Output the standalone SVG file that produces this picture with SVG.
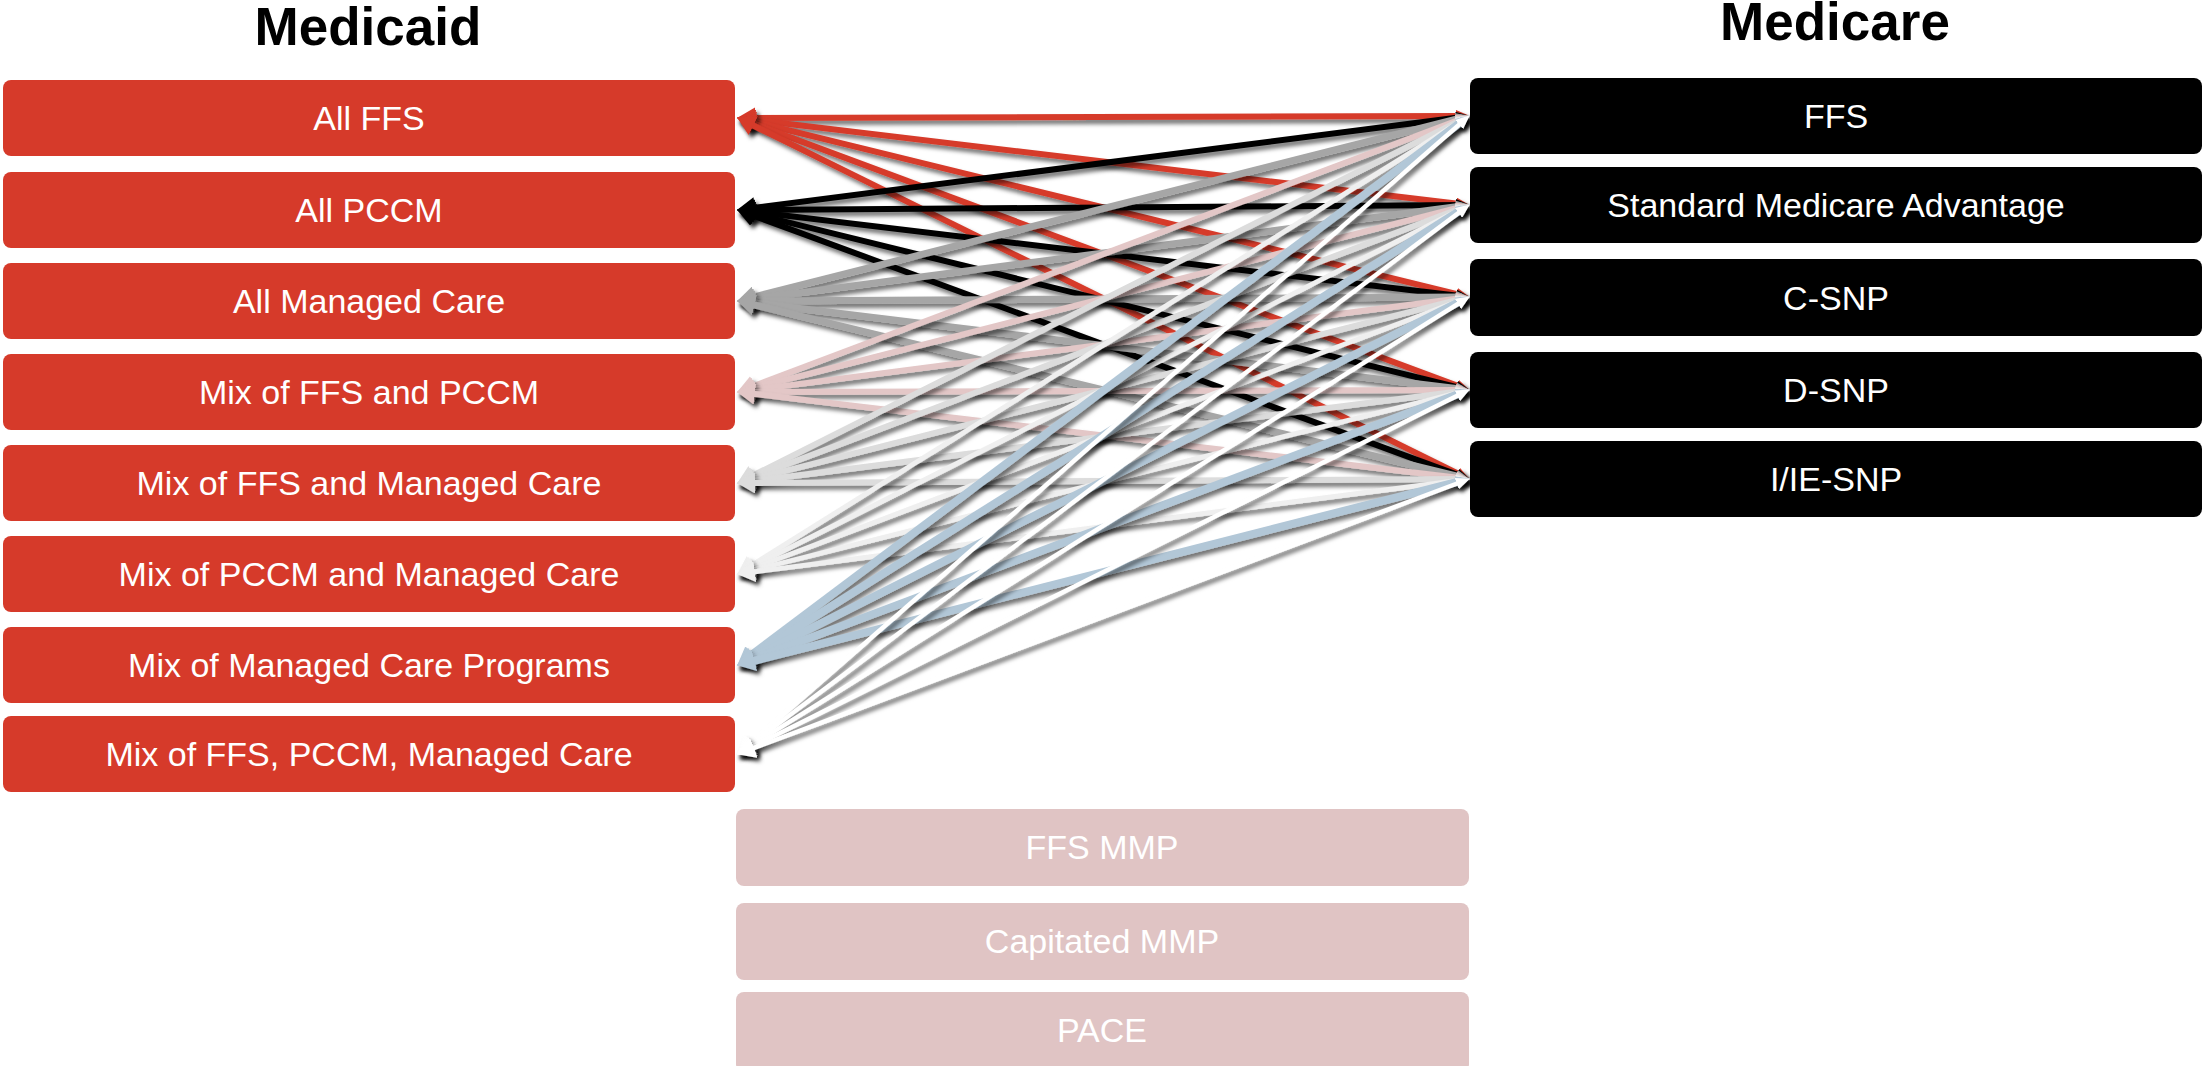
<svg xmlns="http://www.w3.org/2000/svg" width="2204" height="1066" viewBox="0 0 2204 1066">
<style>
.title{font-family:"Liberation Sans",Arial,sans-serif;font-weight:bold;font-size:53px;fill:#000;text-anchor:middle}
.lbl{font-family:"Liberation Sans",Arial,sans-serif;font-size:34px;fill:#fff;text-anchor:middle}
.caid{fill:#D63A2A}
.care{fill:#000}
.mmp{fill:#E0C4C4}
#connectors path{fill:none;filter:url(#sh)}
.c0{stroke:#D63A2A;stroke-width:6;marker-start:url(#s0);marker-end:url(#e0)}
.c1{stroke:#000;stroke-width:6;marker-start:url(#s1);marker-end:url(#e1)}
.c2{stroke:#A6A6A6;stroke-width:7;marker-start:url(#s2);marker-end:url(#e2)}
.c3{stroke:#E3C7C7;stroke-width:6;marker-start:url(#s3);marker-end:url(#e3)}
.c4{stroke:#DCDCDC;stroke-width:6;marker-start:url(#s4);marker-end:url(#e4)}
.c5{stroke:#EFEFEF;stroke-width:5;marker-start:url(#s5);marker-end:url(#e5)}
.c6{stroke:#B2C7D7;stroke-width:8;marker-start:url(#s6);marker-end:url(#e6)}
.c7{stroke:#FFFFFF;stroke-width:4.5;marker-start:url(#s7);marker-end:url(#e7)}
</style>
<defs>
<filter id="sh" filterUnits="userSpaceOnUse" x="0" y="0" width="2204" height="1066">
<feDropShadow dx="3" dy="4" stdDeviation="2.2" flood-color="#000" flood-opacity="0.55"/>
</filter>
<marker id="s0" markerUnits="userSpaceOnUse" viewBox="0 0 18 21" markerWidth="18" markerHeight="21" refX="8" refY="10.5" orient="auto-start-reverse"><path d="M0,0 L18,10.5 L0,21 z" fill="#D63A2A"/></marker>
<marker id="s1" markerUnits="userSpaceOnUse" viewBox="0 0 18 21" markerWidth="18" markerHeight="21" refX="8" refY="10.5" orient="auto-start-reverse"><path d="M0,0 L18,10.5 L0,21 z" fill="#000"/></marker>
<marker id="s2" markerUnits="userSpaceOnUse" viewBox="0 0 18 21" markerWidth="18" markerHeight="21" refX="8" refY="10.5" orient="auto-start-reverse"><path d="M0,0 L18,10.5 L0,21 z" fill="#A6A6A6"/></marker>
<marker id="s3" markerUnits="userSpaceOnUse" viewBox="0 0 18 21" markerWidth="18" markerHeight="21" refX="8" refY="10.5" orient="auto-start-reverse"><path d="M0,0 L18,10.5 L0,21 z" fill="#E3C7C7"/></marker>
<marker id="s4" markerUnits="userSpaceOnUse" viewBox="0 0 18 21" markerWidth="18" markerHeight="21" refX="8" refY="10.5" orient="auto-start-reverse"><path d="M0,0 L18,10.5 L0,21 z" fill="#DCDCDC"/></marker>
<marker id="s5" markerUnits="userSpaceOnUse" viewBox="0 0 18 21" markerWidth="18" markerHeight="21" refX="8" refY="10.5" orient="auto-start-reverse"><path d="M0,0 L18,10.5 L0,21 z" fill="#EFEFEF"/></marker>
<marker id="s6" markerUnits="userSpaceOnUse" viewBox="0 0 18 21" markerWidth="18" markerHeight="21" refX="8" refY="10.5" orient="auto-start-reverse"><path d="M0,0 L18,10.5 L0,21 z" fill="#B2C7D7"/></marker>
<marker id="s7" markerUnits="userSpaceOnUse" viewBox="0 0 18 21" markerWidth="18" markerHeight="21" refX="8" refY="10.5" orient="auto-start-reverse"><path d="M0,0 L18,10.5 L0,21 z" fill="#FFFFFF"/></marker>
<marker id="e0" markerUnits="userSpaceOnUse" viewBox="0 0 14 12" markerWidth="14" markerHeight="12" refX="6" refY="6" orient="auto"><path d="M0,0 L14,6 L0,12 z" fill="#D63A2A"/></marker>
<marker id="e1" markerUnits="userSpaceOnUse" viewBox="0 0 14 12" markerWidth="14" markerHeight="12" refX="6" refY="6" orient="auto"><path d="M0,0 L14,6 L0,12 z" fill="#000"/></marker>
<marker id="e2" markerUnits="userSpaceOnUse" viewBox="0 0 14 12" markerWidth="14" markerHeight="12" refX="6" refY="6" orient="auto"><path d="M0,0 L14,6 L0,12 z" fill="#A6A6A6"/></marker>
<marker id="e3" markerUnits="userSpaceOnUse" viewBox="0 0 14 12" markerWidth="14" markerHeight="12" refX="6" refY="6" orient="auto"><path d="M0,0 L14,6 L0,12 z" fill="#E3C7C7"/></marker>
<marker id="e4" markerUnits="userSpaceOnUse" viewBox="0 0 14 12" markerWidth="14" markerHeight="12" refX="6" refY="6" orient="auto"><path d="M0,0 L14,6 L0,12 z" fill="#DCDCDC"/></marker>
<marker id="e5" markerUnits="userSpaceOnUse" viewBox="0 0 14 12" markerWidth="14" markerHeight="12" refX="6" refY="6" orient="auto"><path d="M0,0 L14,6 L0,12 z" fill="#EFEFEF"/></marker>
<marker id="e6" markerUnits="userSpaceOnUse" viewBox="0 0 14 12" markerWidth="14" markerHeight="12" refX="6" refY="6" orient="auto"><path d="M0,0 L14,6 L0,12 z" fill="#B2C7D7"/></marker>
<marker id="e7" markerUnits="userSpaceOnUse" viewBox="0 0 14 12" markerWidth="14" markerHeight="12" refX="6" refY="6" orient="auto"><path d="M0,0 L14,6 L0,12 z" fill="#FFFFFF"/></marker>
</defs>
<rect width="2204" height="1066" fill="#fff"/>
<text class="title" x="368" y="45">Medicaid</text>
<text class="title" x="1835" y="40">Medicare</text>
<g id="medicaid-all-ffs"><rect class="caid" x="3" y="80" width="732" height="76" rx="8"/><text class="lbl" x="369" y="130">All FFS</text></g>
<g id="medicaid-all-pccm"><rect class="caid" x="3" y="172" width="732" height="76" rx="8"/><text class="lbl" x="369" y="222">All PCCM</text></g>
<g id="medicaid-all-mc"><rect class="caid" x="3" y="263" width="732" height="76" rx="8"/><text class="lbl" x="369" y="313">All Managed Care</text></g>
<g id="medicaid-mix-ffs-pccm"><rect class="caid" x="3" y="354" width="732" height="76" rx="8"/><text class="lbl" x="369" y="404">Mix of FFS and PCCM</text></g>
<g id="medicaid-mix-ffs-mc"><rect class="caid" x="3" y="445" width="732" height="76" rx="8"/><text class="lbl" x="369" y="495">Mix of FFS and Managed Care</text></g>
<g id="medicaid-mix-pccm-mc"><rect class="caid" x="3" y="536" width="732" height="76" rx="8"/><text class="lbl" x="369" y="586">Mix of PCCM and Managed Care</text></g>
<g id="medicaid-mix-mc-programs"><rect class="caid" x="3" y="627" width="732" height="76" rx="8"/><text class="lbl" x="369" y="677">Mix of Managed Care Programs</text></g>
<g id="medicaid-mix-all"><rect class="caid" x="3" y="716" width="732" height="76" rx="8"/><text class="lbl" x="369" y="766">Mix of FFS, PCCM, Managed Care</text></g>
<g id="medicare-ffs"><rect class="care" x="1470" y="78" width="732" height="76" rx="8"/><text class="lbl" x="1836" y="128">FFS</text></g>
<g id="medicare-ma"><rect class="care" x="1470" y="167" width="732" height="76" rx="8"/><text class="lbl" x="1836" y="217">Standard Medicare Advantage</text></g>
<g id="medicare-csnp"><rect class="care" x="1470" y="259" width="732" height="77" rx="8"/><text class="lbl" x="1836" y="310">C-SNP</text></g>
<g id="medicare-dsnp"><rect class="care" x="1470" y="352" width="732" height="76" rx="8"/><text class="lbl" x="1836" y="402">D-SNP</text></g>
<g id="medicare-iesnp"><rect class="care" x="1470" y="441" width="732" height="76" rx="8"/><text class="lbl" x="1836" y="491">I/IE-SNP</text></g>
<g id="ffs-mmp"><rect class="mmp" x="736" y="809" width="733" height="77" rx="8"/><text class="lbl" x="1102" y="859">FFS MMP</text></g>
<g id="capitated-mmp"><rect class="mmp" x="736" y="903" width="733" height="77" rx="8"/><text class="lbl" x="1102" y="953">Capitated MMP</text></g>
<g id="pace"><rect class="mmp" x="736" y="992" width="733" height="80" rx="8"/><text class="lbl" x="1102" y="1042">PACE</text></g>
<g id="connectors">
<path class="c0" d="M747,118 L1462,116"/>
<path class="c0" d="M746.9,119.1 L1462,204.2"/>
<path class="c0" d="M746.7,120.1 L1462.2,295.3"/>
<path class="c0" d="M746.4,121.1 L1462.4,387.6"/>
<path class="c0" d="M746.1,122 L1462.7,475.9"/>
<path class="c1" d="M746.9,208.8 L1462.1,116.9"/>
<path class="c1" d="M747,210 L1462,205"/>
<path class="c1" d="M746.9,211.1 L1462,296.2"/>
<path class="c1" d="M746.7,212.2 L1462.2,388.3"/>
<path class="c1" d="M746.4,213.1 L1462.4,476.6"/>
<path class="c2" d="M746.7,298.8 L1462.2,117.7"/>
<path class="c2" d="M746.9,299.8 L1462.1,205.9"/>
<path class="c2" d="M747,301 L1462,297"/>
<path class="c2" d="M746.9,302.1 L1462,389.2"/>
<path class="c2" d="M746.7,303.1 L1462.2,477.3"/>
<path class="c3" d="M746.4,388.8 L1462.5,118.5"/>
<path class="c3" d="M746.7,389.8 L1462.2,206.7"/>
<path class="c3" d="M746.9,390.8 L1462.1,297.9"/>
<path class="c3" d="M747,392 L1462,390"/>
<path class="c3" d="M746.9,393.1 L1462,478.2"/>
<path class="c4" d="M746,479 L1462.7,119.1"/>
<path class="c4" d="M746.4,479.8 L1462.5,207.5"/>
<path class="c4" d="M746.7,480.8 L1462.2,298.7"/>
<path class="c4" d="M746.9,481.9 L1462.1,390.9"/>
<path class="c4" d="M747,483 L1462,479"/>
<path class="c5" d="M745.6,569.2 L1463.1,119.7"/>
<path class="c5" d="M746,569.9 L1462.7,208.2"/>
<path class="c5" d="M746.4,570.8 L1462.5,299.5"/>
<path class="c5" d="M746.7,571.8 L1462.2,391.7"/>
<path class="c5" d="M746.9,572.8 L1462.1,479.9"/>
<path class="c6" d="M745.2,659.6 L1463.4,120.2"/>
<path class="c6" d="M745.6,660.2 L1463.1,208.7"/>
<path class="c6" d="M746,661 L1462.7,300.1"/>
<path class="c6" d="M746.4,661.8 L1462.4,392.5"/>
<path class="c6" d="M746.7,662.8 L1462.2,480.7"/>
<path class="c7" d="M744.8,748.1 L1463.7,120.6"/>
<path class="c7" d="M745.2,748.6 L1463.4,209.2"/>
<path class="c7" d="M745.6,749.2 L1463.1,300.7"/>
<path class="c7" d="M746.1,750 L1462.7,393.1"/>
<path class="c7" d="M746.4,750.8 L1462.4,481.5"/>
</g>
</svg>
